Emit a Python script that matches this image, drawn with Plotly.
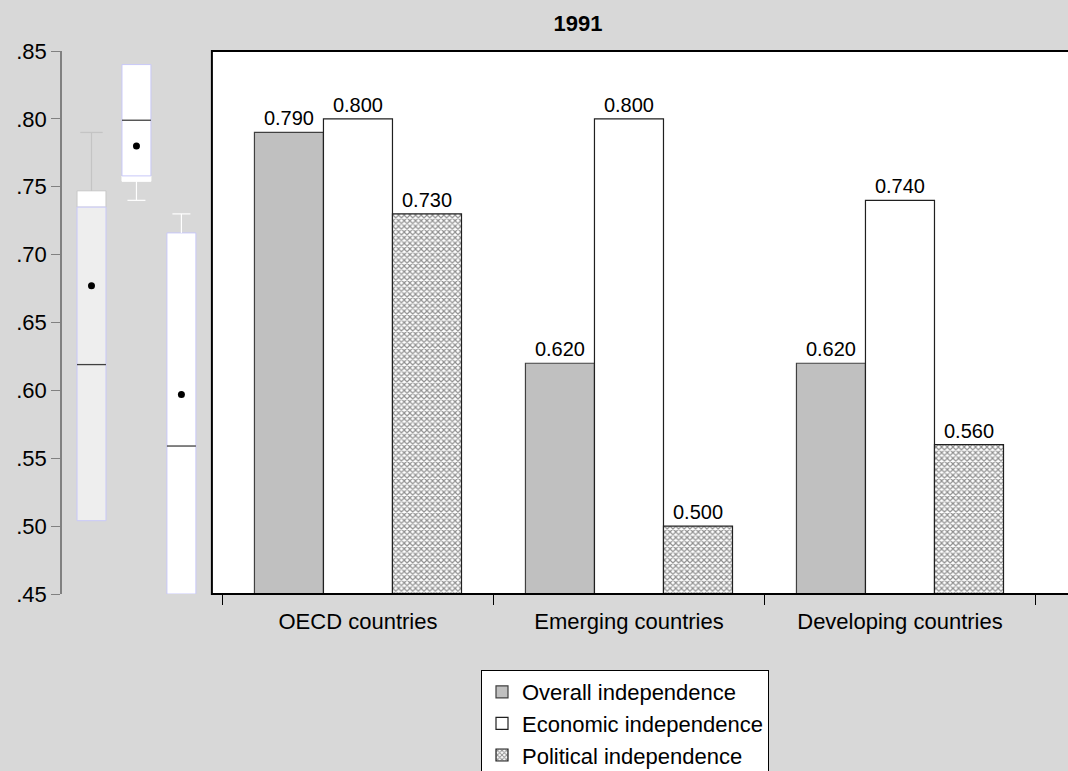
import plotly.graph_objects as go

# bar chart data
categories = ["OECD countries", "Emerging countries", "Developing countries"]
overall = [0.79, 0.62, 0.62]
economic = [0.80, 0.80, 0.74]
political = [0.73, 0.50, 0.56]

# box plot summaries drawn on the left strip
box_pos = [1, 2, 3]
box_q1 = [0.504, 0.758, 0.45]
box_q3 = [0.735, 0.840, 0.716]
box_median = [0.619, 0.799, 0.559]
box_mean = [0.677, 0.780, 0.597]
box_whisker_from = [0.747, 0.754, 0.716]
box_whisker_to = [0.790, 0.740, 0.730]
box_cover_lo = [0.735, 0.754]
box_cover_hi = [0.747, 0.758]

y_ticks = [0.45, 0.50, 0.55, 0.60, 0.65, 0.70, 0.75, 0.80, 0.85]
y_tick_labels = [".45", ".50", ".55", ".60", ".65", ".70", ".75", ".80", ".85"]

FONT = "Liberation Sans, Arial, sans-serif"
BG = "#d8d8d8"
BW = 0.644  # box width in x2 units

fig = go.Figure()

# --- bars ---
fig.add_trace(go.Bar(x=categories, y=overall, name="Overall independence",
                     marker=dict(color="#c0c0c0", line=dict(color="#404040", width=1.2)),
                     texttemplate="%{y:.3f}", textposition="outside"))
fig.add_trace(go.Bar(x=categories, y=economic, name="Economic independence",
                     marker=dict(color="white", line=dict(color="#202020", width=1.2)),
                     texttemplate="%{y:.3f}", textposition="outside"))
fig.add_trace(go.Bar(x=categories, y=political, name="Political independence",
                     marker=dict(color="white", line=dict(color="#202020", width=1.2),
                                 pattern=dict(shape="x", size=4, solidity=0.5,
                                              fgcolor="#202020", bgcolor="white")),
                     texttemplate="%{y:.3f}", textposition="outside"))
fig.update_traces(textfont=dict(size=20, color="black", family=FONT), cliponaxis=False,
                  selector=dict(type="bar"))

# --- box strip on x2 ---
def whisker(i, cap):
    x = box_pos[i]
    return ([x, x, None, x - cap, x + cap, None],
            [box_whisker_from[i], box_whisker_to[i], None, box_whisker_to[i], box_whisker_to[i], None])

wx, wy = whisker(0, 0.25)
fig.add_trace(go.Scatter(x=wx, y=wy, xaxis="x2", yaxis="y", mode="lines",
                         line=dict(color="#c4c4c4", width=1.2), showlegend=False, hoverinfo="skip"))
wx2, wy2 = whisker(1, 0.2)
wx3, wy3 = whisker(2, 0.2)
fig.add_trace(go.Scatter(x=wx2 + wx3, y=wy2 + wy3, xaxis="x2", yaxis="y", mode="lines",
                         line=dict(color="white", width=1.2), showlegend=False, hoverinfo="skip"))

fig.add_trace(go.Bar(x=box_pos[:2], y=[h - l for l, h in zip(box_cover_lo, box_cover_hi)],
                     base=box_cover_lo, xaxis="x2", yaxis="y", width=BW, offset=-BW / 2,
                     marker=dict(color="white", line=dict(color=["#c8c8c8", "white"], width=1)),
                     showlegend=False, hoverinfo="skip"))
fig.add_trace(go.Bar(x=box_pos, y=[h - l for l, h in zip(box_q1, box_q3)], base=box_q1,
                     xaxis="x2", yaxis="y", width=BW, offset=-BW / 2,
                     marker=dict(color=["#eeeeee", "white", "white"],
                                 line=dict(color="#c8c8f8", width=1)),
                     showlegend=False, hoverinfo="skip"))

mx, my = [], []
for p, m in zip(box_pos, box_median):
    mx += [p - BW / 2, p + BW / 2, None]
    my += [m, m, None]
fig.add_trace(go.Scatter(x=mx, y=my, xaxis="x2", yaxis="y", mode="lines",
                         line=dict(color="#404040", width=1.3), showlegend=False, hoverinfo="skip"))
fig.add_trace(go.Scatter(x=box_pos, y=box_mean, xaxis="x2", yaxis="y", mode="markers",
                         marker=dict(color="black", size=7), showlegend=False, hoverinfo="skip"))

# white frame behind bars, black border on top
fig.add_shape(type="rect", xref="x domain", yref="y domain", x0=0, x1=1.02, y0=0, y1=1,
              fillcolor="white", line=dict(width=0), layer="below")
fig.add_shape(type="rect", xref="x domain", yref="y domain", x0=0, x1=1.02, y0=0, y1=1,
              fillcolor="rgba(0,0,0,0)", line=dict(color="black", width=2), layer="above")

fig.update_layout(
    width=1068, height=771,
    paper_bgcolor=BG, plot_bgcolor=BG,
    font=dict(family=FONT, color="black"),
    margin=dict(l=62, r=0, t=51, b=177, autoexpand=False),
    barmode="group", bargap=0.236, bargroupgap=0,
    title=dict(text="<b>1991</b>", x=578 / 1068, xanchor="center", y=1 - 23 / 771,
               yanchor="middle", font=dict(size=22, family=FONT)),
    xaxis=dict(domain=[0.149, 1], range=[-0.539, 2.62], type="category", anchor="y",
               tickson="boundaries", ticks="outside", ticklen=10, tickcolor="black",
               ticklabelstandoff=12, automargin=False,
               showgrid=False, showline=False, zeroline=False,
               tickfont=dict(size=22, family=FONT)),
    xaxis2=dict(domain=[0, 0.149], range=[0.344, 3.678], anchor="y", visible=False),
    yaxis=dict(domain=[0, 1], range=[0.45, 0.85], anchor="x2", automargin=False,
               tickvals=y_ticks, ticktext=y_tick_labels, ticks="outside", ticklen=9,
               tickcolor="#808080", showline=True, linecolor="#808080", linewidth=1.5,
               showgrid=False, zeroline=False, tickfont=dict(size=22, family=FONT)),
    legend=dict(x=(481 - 62) / 1006, xanchor="left", y=(594 - 670) / 543, yanchor="top",
                bgcolor="white", bordercolor="black", borderwidth=1,
                entrywidth=275, entrywidthmode="pixels",
                font=dict(size=22, family=FONT), traceorder="normal", tracegroupgap=0),
    showlegend=True,
)

fig.write_html("out.html", config={"displayModeBar": False},
               post_script="document.body.style.margin='0';document.body.style.overflow='hidden';")
